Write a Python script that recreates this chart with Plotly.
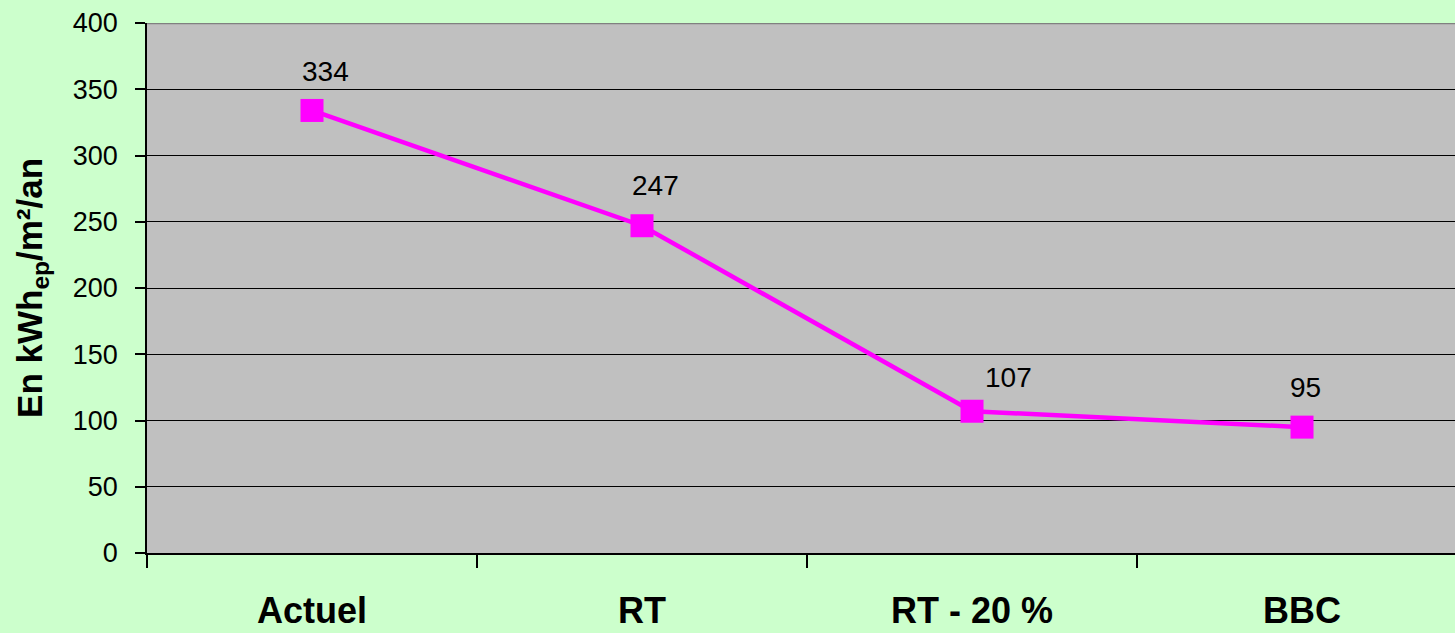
import plotly.graph_objects as go

categories = ["Actuel", "RT", "RT - 20 %", "BBC"]
values = [334, 247, 107, 95]
y_ticks = [0, 50, 100, 150, 200, 250, 300, 350, 400]

# label offsets (style only)
label_dx = [13, 13, 36, 3]
label_dy = [39, 40, 34, 40]

FONT = "Liberation Sans, Arial, sans-serif"

fig = go.Figure()
fig.add_trace(go.Scatter(
    x=categories, y=values, mode="lines+markers",
    line=dict(color="#FF00FF", width=4.5),
    marker=dict(symbol="square", size=23, color="#FF00FF"),
    hoverinfo="x+y", showlegend=False, cliponaxis=False,
))

for i, (c, v) in enumerate(zip(categories, values)):
    fig.add_annotation(
        x=c, y=v, text=str(v), showarrow=False,
        xshift=label_dx[i], yshift=label_dy[i],
        xanchor="center", yanchor="middle",
        font=dict(family=FONT, size=28, color="black"),
    )

fig.add_annotation(
    xref="paper", yref="paper", x=-0.088, y=0.5,
    text="<b>En kWh<sub>ep</sub>/m²/an</b>", textangle=-90,
    showarrow=False, xanchor="center", yanchor="middle",
    font=dict(family=FONT, size=35, color="black"),
)

fig.add_shape(type="line", xref="paper", yref="y", x0=0, x1=1, y0=400, y1=400,
              line=dict(color="#808080", width=2.5), layer="above")

fig.update_layout(
    width=1455, height=633,
    margin=dict(l=147, r=0, t=23, b=80),
    paper_bgcolor="#CCFFCC", plot_bgcolor="#C0C0C0",
    font=dict(family=FONT, color="black"),
)
fig.update_xaxes(
    type="category", range=[-0.5, 3.4636],
    tickson="boundaries", ticks="outside", ticklen=13, tickcolor="black", tickwidth=1.5,
    showline=True, linecolor="black", linewidth=1.5,
    showgrid=False, ticklabelstandoff=25,
    tickfont=dict(family=FONT, size=36, color="black", weight="bold"),
)
fig.update_yaxes(
    range=[0, 400], tickvals=y_ticks, ticks="outside", ticklen=10,
    tickcolor="black", tickwidth=1.5,
    showline=True, linecolor="black", linewidth=1.5,
    showgrid=True, gridcolor="black", gridwidth=1, zeroline=False,
    ticklabelstandoff=12,
    tickfont=dict(family=FONT, size=27, color="black"),
)

fig.write_html(
    "out.html",
    config={"displayModeBar": False},
    post_script="document.body.style.margin='0';document.body.style.padding='0';document.body.style.overflow='hidden';",
)
